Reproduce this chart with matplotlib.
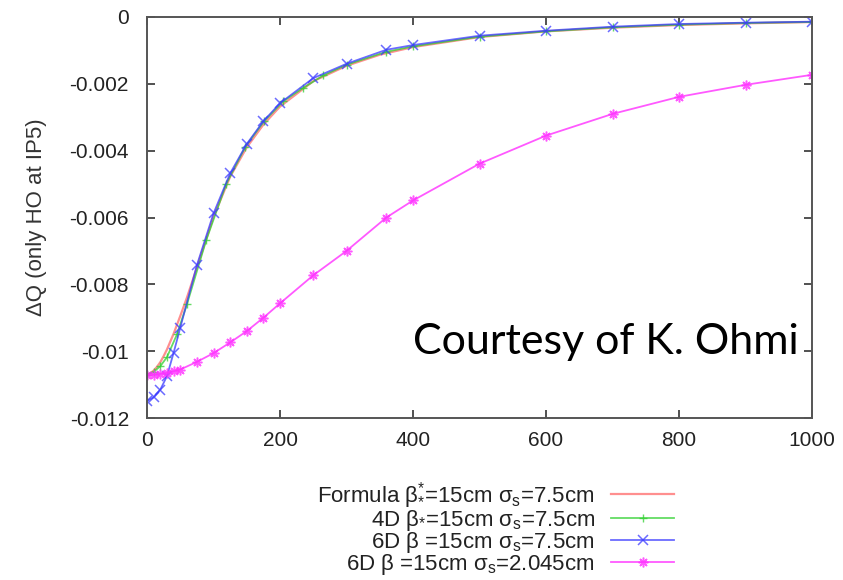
import matplotlib
matplotlib.use('Agg')
import matplotlib.pyplot as plt

plt.rcParams['font.family'] = ['Liberation Sans', 'DejaVu Sans']
plt.rcParams['mathtext.fontset'] = 'custom'
plt.rcParams['mathtext.rm'] = 'Liberation Sans'
plt.rcParams['mathtext.it'] = 'Liberation Sans'

# Formula, beta*=15cm sigma_s=7.5cm (smooth curve)
x_formula = [0, 5, 10, 15, 20, 25, 30, 40, 50, 60, 75, 100, 125, 150, 175, 200,
             250, 300, 350, 400, 500, 600, 700, 800, 900, 1000]
y_formula = [-0.01070, -0.01066, -0.01058, -0.01047, -0.01033, -0.01015, -0.00995,
             -0.00948, -0.00895, -0.00840, -0.00750, -0.00598, -0.00478, -0.00390,
             -0.00322, -0.00268, -0.00192, -0.00146, -0.00113, -0.00090, -0.00060,
             -0.00043, -0.00032, -0.00024, -0.00019, -0.00015]

# 4D
x_4d = [0, 10, 20, 30, 45, 60, 89, 119, 148, 176, 205, 235, 265, 300, 360, 400,
        500, 600, 700, 800, 900, 1000]
y_4d = [-0.01070, -0.01062, -0.01045, -0.01018, -0.00950, -0.00860, -0.00668,
        -0.00500, -0.00388, -0.00312, -0.00252, -0.00212, -0.00175, -0.00143,
        -0.00104, -0.00088, -0.00059, -0.00043, -0.00031, -0.00023, -0.00018,
        -0.00015]

# 6D, sigma_s=7.5cm and sigma_s=2.045cm
x_6d = [0, 10, 20, 30, 40, 50, 75, 100, 125, 150, 175, 200, 250, 300, 360, 400,
        500, 600, 700, 800, 900, 1000]
y_6d_75 = [-0.01149, -0.01138, -0.01115, -0.01075, -0.01005, -0.00930, -0.00743,
           -0.00588, -0.00468, -0.00380, -0.00312, -0.00258, -0.00183, -0.00140,
           -0.00098, -0.00084, -0.00056, -0.00041, -0.00029, -0.00021, -0.00017,
           -0.00014]
y_6d_2045 = [-0.01070, -0.01070, -0.01068, -0.01065, -0.01060, -0.01055, -0.01032,
             -0.01006, -0.00974, -0.00940, -0.00900, -0.00857, -0.00773, -0.00700,
             -0.00600, -0.00549, -0.00439, -0.00355, -0.00290, -0.00239, -0.00203,
             -0.00173]

labels = [r'Formula β$^{*}_{*}$=15cm σ$_{\rm s}$=7.5cm',
          r'4D β$_{*}$=15cm σ$_{\rm s}$=7.5cm',
          r'6D β =15cm σ$_{\rm s}$=7.5cm',
          r'6D β =15cm σ$_{\rm s}$=2.045cm']

fig = plt.figure(figsize=(8.43, 5.8), dpi=100)
ax = fig.add_axes([147 / 843, 1 - 418 / 580, 665 / 843, 401 / 580])

ax.plot(x_formula, y_formula, color='#ff6a6a', lw=1.6, alpha=0.75, label=labels[0])
ax.plot(x_4d, y_4d, color='#30d030', lw=1.3, alpha=0.75, marker='+', ms=6,
        mew=1.0, label=labels[1])
ax.plot(x_6d, y_6d_75, color='#3a3aff', lw=1.3, alpha=0.75, marker='x', ms=7,
        mew=1.1, label=labels[2])
ax.plot(x_6d, y_6d_2045, color='#ff30ff', lw=1.3, alpha=0.8, marker=(8, 2, 0),
        ms=7, mew=1.1, label=labels[3])

ax.set_xlim(0, 1000)
ax.set_ylim(-0.012, 0)
ax.set_xticks([0, 200, 400, 600, 800, 1000])
ax.set_yticks([-0.012, -0.010, -0.008, -0.006, -0.004, -0.002, 0])
ax.set_yticklabels(['-0.012', '-0.01', '-0.008', '-0.006', '-0.004', '-0.002', '0'])

for s in ax.spines.values():
    s.set_color('#555555')
    s.set_linewidth(1.4)
ax.tick_params(direction='in', length=6, width=1.2, color='#333333',
               top=True, right=True, labelsize=15, labelcolor='#222222')
ax.tick_params(axis='x', pad=9)
ax.tick_params(axis='y', pad=13)

ax.set_ylabel('ΔQ (only HO at IP5)', fontsize=16, color='#333333', labelpad=16)

ax.text(400, -0.01009, 'Courtesy of K. Ohmi', fontsize=31, color='black',
        family=['Lato', 'DejaVu Sans'], va='baseline', ha='left')

leg = fig.legend(loc='upper right', bbox_to_anchor=(687 / 843, 1 - 467 / 580),
                 frameon=False, markerfirst=False, fontsize=16, handlelength=2.8,
                 handletextpad=0.75, labelspacing=-0.12, borderpad=0.1)
for t in leg.get_texts():
    t.set_color('#222222')

fig.savefig('out.png', dpi=100)
